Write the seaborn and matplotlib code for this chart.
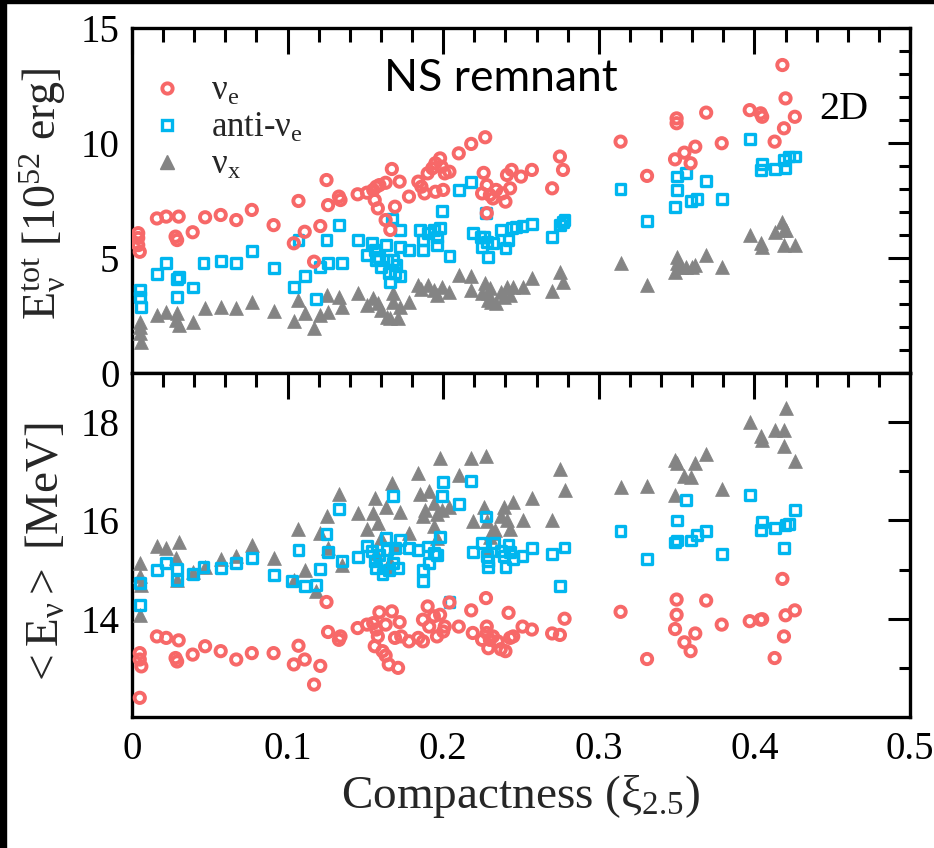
import matplotlib
matplotlib.use("Agg")
import matplotlib.pyplot as plt
import seaborn as sns
import numpy as np
from matplotlib.lines import Line2D
from matplotlib.patches import Rectangle
from matplotlib.ticker import MultipleLocator, FixedLocator, FixedFormatter

# ---------------- data ----------------
# Top panel: total energy [1e52 erg]
nue_tot_x = [0.004, 0.004, 0.004, 0.005, 0.016, 0.022, 0.030, 0.028, 0.029, 0.039, 0.047, 0.057, 0.067, 0.077,
             0.091, 0.107, 0.104, 0.111, 0.117, 0.121, 0.125, 0.126, 0.133, 0.134, 0.145, 0.151, 0.155, 0.157,
             0.159, 0.163, 0.156, 0.158, 0.167, 0.163, 0.166, 0.169, 0.172, 0.178, 0.184, 0.186, 0.188, 0.190,
             0.193, 0.195, 0.198, 0.199, 0.201, 0.204, 0.195, 0.200, 0.210, 0.218, 0.227, 0.226, 0.225, 0.228,
             0.228, 0.230, 0.232, 0.234, 0.238, 0.240, 0.243, 0.241, 0.244, 0.250, 0.257, 0.270, 0.275, 0.277,
             0.314, 0.331, 0.350, 0.350, 0.349, 0.355, 0.359, 0.362, 0.369, 0.379, 0.397, 0.404, 0.405, 0.413,
             0.418, 0.420, 0.419, 0.426]
nue_tot_y = [6.08, 5.87, 5.56, 5.27, 6.72, 6.80, 6.80, 5.93, 5.78, 6.12, 6.77, 6.87, 6.65, 7.09,
             6.43, 7.48, 5.64, 6.14, 4.84, 6.39, 8.39, 7.30, 7.67, 7.52, 7.77, 7.84, 7.96, 8.10,
             8.17, 8.27, 7.52, 7.16, 8.87, 6.65, 6.22, 7.23, 8.32, 7.67, 8.32, 8.10, 7.81, 8.68,
             8.90, 9.12, 9.33, 8.97, 8.68, 8.75, 7.88, 7.96, 9.55, 9.96, 10.25, 8.70, 7.81, 6.95,
             8.17, 7.74, 7.59, 7.96, 7.81, 7.45, 8.03, 8.61, 8.83, 8.54, 8.83, 8.03, 9.41, 8.83,
             10.06, 8.57, 11.07, 10.86, 9.29, 9.58, 9.12, 9.84, 11.32, 9.99, 11.43, 11.29, 11.14, 10.06,
             13.39, 11.94, 10.64, 11.14]

anue_tot_x = [0.005, 0.005, 0.006, 0.016, 0.022, 0.029, 0.030, 0.029, 0.039, 0.046, 0.057, 0.067, 0.077, 0.091,
              0.104, 0.107, 0.111, 0.118, 0.121, 0.125, 0.126, 0.133, 0.135, 0.145, 0.151, 0.154, 0.156, 0.157,
              0.159, 0.160, 0.163, 0.164, 0.165, 0.166, 0.168, 0.169, 0.170, 0.172, 0.167, 0.172, 0.172, 0.178,
              0.185, 0.187, 0.190, 0.194, 0.196, 0.198, 0.199, 0.204, 0.187, 0.196, 0.210, 0.218, 0.2275, 0.219,
              0.224, 0.225, 0.228, 0.229, 0.226, 0.232, 0.237, 0.240, 0.242, 0.244, 0.247, 0.251, 0.257, 0.270,
              0.275, 0.277, 0.278, 0.314, 0.331, 0.349, 0.350, 0.350, 0.356, 0.359, 0.363, 0.369, 0.379, 0.397,
              0.404, 0.405, 0.413, 0.419, 0.420, 0.422, 0.426]
anue_tot_y = [3.61, 3.32, 2.88, 4.30, 4.77, 4.07, 4.19, 3.29, 3.72, 4.80, 4.87, 4.77, 5.32, 4.58,
              3.75, 5.78, 4.23, 3.20, 4.62, 5.78, 4.77, 6.43, 4.77, 5.78, 5.13, 5.64, 5.35, 4.91,
              5.06, 4.62, 5.57, 4.91, 4.33, 3.97, 4.91, 4.33, 4.70, 4.22, 6.72, 6.22, 5.49, 5.35,
              6.22, 5.78, 6.07, 6.22, 5.93, 6.32, 7.04, 5.09, 5.35, 5.57, 7.96, 8.32, 6.97, 6.07,
              5.90, 5.49, 5.71, 5.06, 5.93, 5.64, 6.22, 5.42, 5.78, 6.29, 6.36, 6.39, 6.48, 5.90,
              6.43, 6.58, 6.65, 7.99, 6.62, 7.23, 8.54, 7.96, 8.71, 7.49, 7.57, 8.36, 7.57, 10.16,
              8.83, 9.09, 8.86, 9.26, 8.90, 9.41, 9.41]

nux_tot_x = [0.005, 0.005, 0.006, 0.005, 0.016, 0.022, 0.029, 0.030, 0.028, 0.039, 0.047, 0.057, 0.067, 0.077,
             0.091, 0.104, 0.107, 0.111, 0.117, 0.121, 0.125, 0.126, 0.133, 0.135, 0.145, 0.151, 0.155, 0.158,
             0.160, 0.164, 0.166, 0.168, 0.171, 0.172, 0.168, 0.178, 0.184, 0.186, 0.190, 0.194, 0.196, 0.199,
             0.204, 0.210, 0.218, 0.218, 0.225, 0.227, 0.229, 0.229, 0.231, 0.230, 0.234, 0.237, 0.239, 0.241,
             0.243, 0.245, 0.251, 0.257, 0.270, 0.275, 0.277, 0.314, 0.331, 0.350, 0.350, 0.349, 0.353, 0.356,
             0.360, 0.362, 0.369, 0.379, 0.397, 0.404, 0.405, 0.413, 0.418, 0.419, 0.420, 0.419, 0.426]
nux_tot_y = [2.23, 1.72, 1.36, 2.01, 2.52, 2.67, 2.59, 2.09, 2.30, 2.23, 2.81, 2.88, 2.81, 3.10,
             2.71, 2.27, 3.17, 2.59, 1.94, 2.52, 3.39, 2.67, 3.32, 2.88, 3.46, 2.96, 3.25, 3.03,
             2.74, 2.45, 2.38, 3.10, 2.38, 2.88, 3.49, 3.10, 3.83, 3.64, 3.83, 3.61, 3.39, 3.75,
             3.54, 4.26, 4.22, 3.61, 3.46, 3.90, 3.17, 3.46, 3.10, 3.68, 3.03, 3.54, 3.32, 3.75,
             3.39, 3.72, 3.75, 4.12, 3.58, 4.41, 3.97, 4.77, 3.83, 5.06, 4.77, 4.41, 4.62, 4.62,
             4.62, 4.70, 5.13, 4.59, 6.00, 5.64, 5.49, 6.14, 6.58, 6.22, 6.22, 5.57, 5.57]

# Bottom panel: mean energy [MeV]
nue_avg_x = [0.005, 0.005, 0.006, 0.005, 0.016, 0.022, 0.028, 0.029, 0.030, 0.039, 0.047, 0.057, 0.067, 0.077,
             0.091, 0.104, 0.107, 0.111, 0.117, 0.121, 0.125, 0.126, 0.133, 0.134, 0.145, 0.151, 0.155, 0.157,
             0.159, 0.156, 0.158, 0.163, 0.161, 0.163, 0.165, 0.167, 0.169, 0.171, 0.172, 0.173, 0.178, 0.184,
             0.187, 0.187, 0.190, 0.191, 0.194, 0.196, 0.198, 0.200, 0.201, 0.204, 0.210, 0.218, 0.219, 0.225,
             0.2275, 0.228, 0.229, 0.228, 0.230, 0.232, 0.235, 0.237, 0.240, 0.242, 0.243, 0.245, 0.251, 0.257,
             0.270, 0.275, 0.278, 0.314, 0.331, 0.350, 0.350, 0.349, 0.355, 0.359, 0.362, 0.369, 0.379, 0.397,
             0.404, 0.405, 0.413, 0.418, 0.419, 0.420, 0.426]
nue_avg_y = [13.30, 13.17, 13.03, 12.39, 13.64, 13.61, 13.20, 13.13, 13.56, 13.27, 13.44, 13.34, 13.17, 13.30,
             13.30, 13.07, 13.45, 13.17, 12.66, 13.04, 14.34, 13.73, 13.57, 13.64, 13.81, 13.88, 13.91, 13.78,
             14.13, 13.44, 13.64, 13.88, 13.34, 13.25, 13.07, 14.15, 13.61, 13.00, 13.93, 13.64, 13.54, 13.61,
             13.54, 13.98, 14.25, 13.84, 14.05, 13.64, 14.08, 13.74, 13.84, 14.33, 13.84, 14.17, 13.71, 13.57,
             14.42, 13.84, 13.40, 13.71, 13.57, 13.64, 13.54, 13.38, 13.34, 14.12, 13.61, 13.64, 13.84, 13.78,
             13.70, 13.67, 14.00, 14.14, 13.18, 14.39, 14.08, 13.79, 13.52, 13.34, 13.70, 14.37, 13.88, 13.95,
             13.98, 13.99, 13.20, 14.81, 13.64, 14.07, 14.17]

anue_avg_x = [0.005, 0.005, 0.016, 0.022, 0.029, 0.029, 0.039, 0.046, 0.057, 0.067, 0.077, 0.091, 0.103, 0.107,
              0.111, 0.118, 0.121, 0.125, 0.126, 0.133, 0.135, 0.145, 0.151, 0.154, 0.156, 0.157, 0.159, 0.161,
              0.163, 0.164, 0.165, 0.168, 0.169, 0.171, 0.172, 0.168, 0.178, 0.184, 0.187, 0.187, 0.190, 0.191,
              0.194, 0.196, 0.198, 0.199, 0.200, 0.204, 0.210, 0.218, 0.219, 0.225, 0.2275, 0.228, 0.229, 0.229,
              0.233, 0.237, 0.239, 0.240, 0.242, 0.243, 0.245, 0.251, 0.257, 0.270, 0.275, 0.278, 0.314, 0.331,
              0.349, 0.350, 0.350, 0.356, 0.359, 0.363, 0.369, 0.379, 0.397, 0.404, 0.405, 0.413, 0.419, 0.420,
              0.422, 0.426]
anue_avg_y = [14.73, 14.28, 14.99, 15.13, 15.01, 14.79, 14.91, 15.06, 15.04, 15.13, 15.23, 14.89, 14.76, 15.39,
              14.67, 14.69, 15.01, 15.72, 15.35, 16.23, 15.17, 15.25, 15.48, 15.37, 15.17, 15.03, 15.30, 14.91,
              15.64, 15.40, 14.99, 15.13, 15.44, 15.03, 15.61, 16.49, 15.44, 15.40, 14.99, 14.76, 15.47, 15.13,
              15.33, 15.30, 15.67, 16.49, 16.79, 14.34, 16.34, 16.81, 15.35, 15.54, 16.08, 15.27, 15.05, 15.17,
              15.54, 15.37, 15.27, 15.06, 15.50, 15.35, 15.21, 15.27, 15.44, 15.32, 14.66, 15.45, 15.79, 15.21,
              15.55, 15.59, 16.00, 16.41, 15.59, 15.71, 15.79, 15.32, 16.51, 15.80, 15.96, 15.84, 15.44, 15.91,
              15.93, 16.22]

nux_avg_x = [0.005, 0.005, 0.006, 0.005, 0.016, 0.022, 0.028, 0.029, 0.030, 0.039, 0.047, 0.057, 0.067, 0.077,
             0.091, 0.104, 0.107, 0.111, 0.118, 0.121, 0.125, 0.126, 0.133, 0.135, 0.145, 0.151, 0.155, 0.156,
             0.158, 0.160, 0.163, 0.164, 0.166, 0.167, 0.169, 0.172, 0.178, 0.157, 0.184, 0.185, 0.187, 0.188,
             0.191, 0.194, 0.196, 0.198, 0.199, 0.204, 0.194, 0.196, 0.210, 0.218, 0.219, 0.226, 0.2275, 0.228,
             0.229, 0.231, 0.230, 0.233, 0.237, 0.239, 0.241, 0.243, 0.245, 0.251, 0.257, 0.270, 0.275, 0.278,
             0.314, 0.331, 0.349, 0.350, 0.349, 0.355, 0.359, 0.362, 0.369, 0.379, 0.397, 0.404, 0.405, 0.413,
             0.419, 0.420, 0.419, 0.426]
nux_avg_y = [15.13, 14.86, 14.69, 14.08, 15.47, 15.44, 15.23, 14.79, 15.57, 14.96, 15.06, 15.21, 15.27, 15.50,
             15.23, 14.79, 15.82, 15.00, 14.56, 15.74, 16.08, 15.44, 16.54, 15.10, 16.16, 15.82, 16.16, 16.45,
             15.94, 15.64, 16.28, 15.06, 15.16, 16.76, 15.47, 16.18, 15.74, 15.33, 16.96, 16.54, 16.08, 16.22,
             16.59, 16.35, 16.13, 17.27, 16.22, 16.28, 15.88, 15.64, 16.93, 17.27, 15.98, 16.27, 17.31, 15.98,
             15.40, 15.74, 15.67, 15.81, 16.08, 16.28, 16.01, 15.82, 16.38, 16.01, 16.45, 16.00, 17.04, 16.62,
             16.69, 16.71, 17.23, 17.16, 16.52, 16.91, 16.89, 17.16, 17.35, 16.63, 18.01, 17.71, 17.64, 17.84,
             17.84, 18.28, 17.52, 17.20]

series_labels = [r"$\mathrm{ν_e}$", r"$\mathrm{anti}$-$\mathrm{ν_e}$", r"$\mathrm{ν_x}$"]
x_ticks = [0.0, 0.1, 0.2, 0.3, 0.4, 0.5]
x_tick_labels = ["0", "0.1", "0.2", "0.3", "0.4", "0.5"]
top_y_ticks = [0, 5, 10, 15]
top_y_tick_labels = ["0", "5", "10", "15"]
bot_y_ticks = [14, 16, 18]
bot_y_tick_labels = ["14", "16", "18"]

# ---------------- style ----------------
sns.set_style("white")
plt.rcParams["font.family"] = ["Liberation Serif", "DejaVu Serif"]
plt.rcParams["mathtext.fontset"] = "custom"
plt.rcParams["mathtext.rm"] = "Liberation Serif"
plt.rcParams["mathtext.it"] = "Liberation Serif:italic"
plt.rcParams["mathtext.bf"] = "Liberation Serif:bold"

RED = "#F76868"
BLUE = "#00B6EF"
GRAY = "#848484"

fig = plt.figure(figsize=(9.34, 8.48), dpi=100)
fig.patch.set_facecolor("white")
L, R = 132 / 934, 910 / 934
ax1 = fig.add_axes([L, 1 - 373 / 848, R - L, (373 - 28) / 848])
ax2 = fig.add_axes([L, 1 - 717 / 848, R - L, (717 - 373) / 848], sharex=ax1)


def draw(ax, xs):
    (gx, gy), (bx, by), (rx, ry) = xs
    sns.scatterplot(x=gx, y=gy, ax=ax, marker="^", s=100, color=GRAY, edgecolor=GRAY, linewidth=0.5, zorder=3)
    sns.scatterplot(x=bx, y=by, ax=ax, marker="s", s=50, facecolor="none", edgecolor=BLUE, linewidth=2.4, zorder=4)
    sns.scatterplot(x=rx, y=ry, ax=ax, marker="o", s=55, facecolor="none", edgecolor=RED, linewidth=2.8, zorder=5)


draw(ax1, [(nux_tot_x, nux_tot_y), (anue_tot_x, anue_tot_y), (nue_tot_x, nue_tot_y)])
draw(ax2, [(nux_avg_x, nux_avg_y), (anue_avg_x, anue_avg_y), (nue_avg_x, nue_avg_y)])

for ax in (ax1, ax2):
    for sp in ax.spines.values():
        sp.set_linewidth(2.4)
        sp.set_color("black")
        sp.set_visible(True)
    ax.tick_params(which="both", direction="in", top=True, right=True, width=2.2, colors="black",
                   labelsize=28)
    ax.tick_params(axis="x", which="major", length=19, pad=10)
    ax.tick_params(axis="x", which="minor", length=10)
    ax.tick_params(axis="y", which="major", length=16, pad=9)
    ax.tick_params(axis="y", which="minor", length=8)
    ax.xaxis.set_major_locator(FixedLocator(x_ticks))
    ax.xaxis.set_minor_locator(MultipleLocator(0.02))
    ax.set_xlim(0, 0.5)

ax1.set_ylim(0, 15)
ax1.yaxis.set_major_locator(FixedLocator(top_y_ticks))
ax1.yaxis.set_major_formatter(FixedFormatter(top_y_tick_labels))
ax1.yaxis.set_minor_locator(MultipleLocator(1))
ax1.tick_params(axis="x", labelbottom=False)

ax2.set_ylim(12, 19)
ax2.yaxis.set_major_locator(FixedLocator(bot_y_ticks))
ax2.yaxis.set_major_formatter(FixedFormatter(bot_y_tick_labels))
ax2.yaxis.set_minor_locator(FixedLocator([13, 15, 17, 19]))
ax2.xaxis.set_major_formatter(FixedFormatter(x_tick_labels))

ax1.set_xlabel("")
ax2.set_xlabel(r"Compactness ($\mathrm{ξ_{2.5}}$)", fontsize=34, labelpad=4)
ax1.set_ylabel(r"$\mathrm{E_{ν}^{tot}\ [10^{52}\ erg]}$", fontsize=33)
ax2.set_ylabel(r"$\mathrm{<E_{ν}>\ [MeV]}$", fontsize=34)
ax1.yaxis.set_label_coords(-0.082, 0.52)
ax2.yaxis.set_label_coords(-0.082, 0.47)

handles = [
    Line2D([], [], linestyle="none", marker="o", markersize=7.4, markerfacecolor="none",
           markeredgecolor=RED, markeredgewidth=2.8),
    Line2D([], [], linestyle="none", marker="s", markersize=7.0, markerfacecolor="none",
           markeredgecolor=BLUE, markeredgewidth=2.4),
    Line2D([], [], linestyle="none", marker="^", markersize=10, color=GRAY),
]
leg = ax1.legend(handles, series_labels, loc="upper left", bbox_to_anchor=(0.005, 0.905), frameon=False,
                 fontsize=25, handlelength=1.0, handletextpad=0.75, labelspacing=0.12, borderaxespad=0)

ax1.text(0.474, 0.855, "NS remnant", transform=ax1.transAxes, ha="center", va="center",
         fontsize=32, family=["Lato", "DejaVu Sans"], color="black")
ax1.text(0.915, 0.765, "2D", transform=ax1.transAxes, ha="center", va="center", fontsize=29, color="black")

# black screenshot borders
fig.add_artist(Rectangle((0, 0), 6 / 934, 1, transform=fig.transFigure, color="black", zorder=10))
fig.add_artist(Rectangle((0, 1 - 3 / 848), 1, 3 / 848, transform=fig.transFigure, color="black", zorder=10))

fig.savefig("out.png", dpi=100, facecolor="white")
